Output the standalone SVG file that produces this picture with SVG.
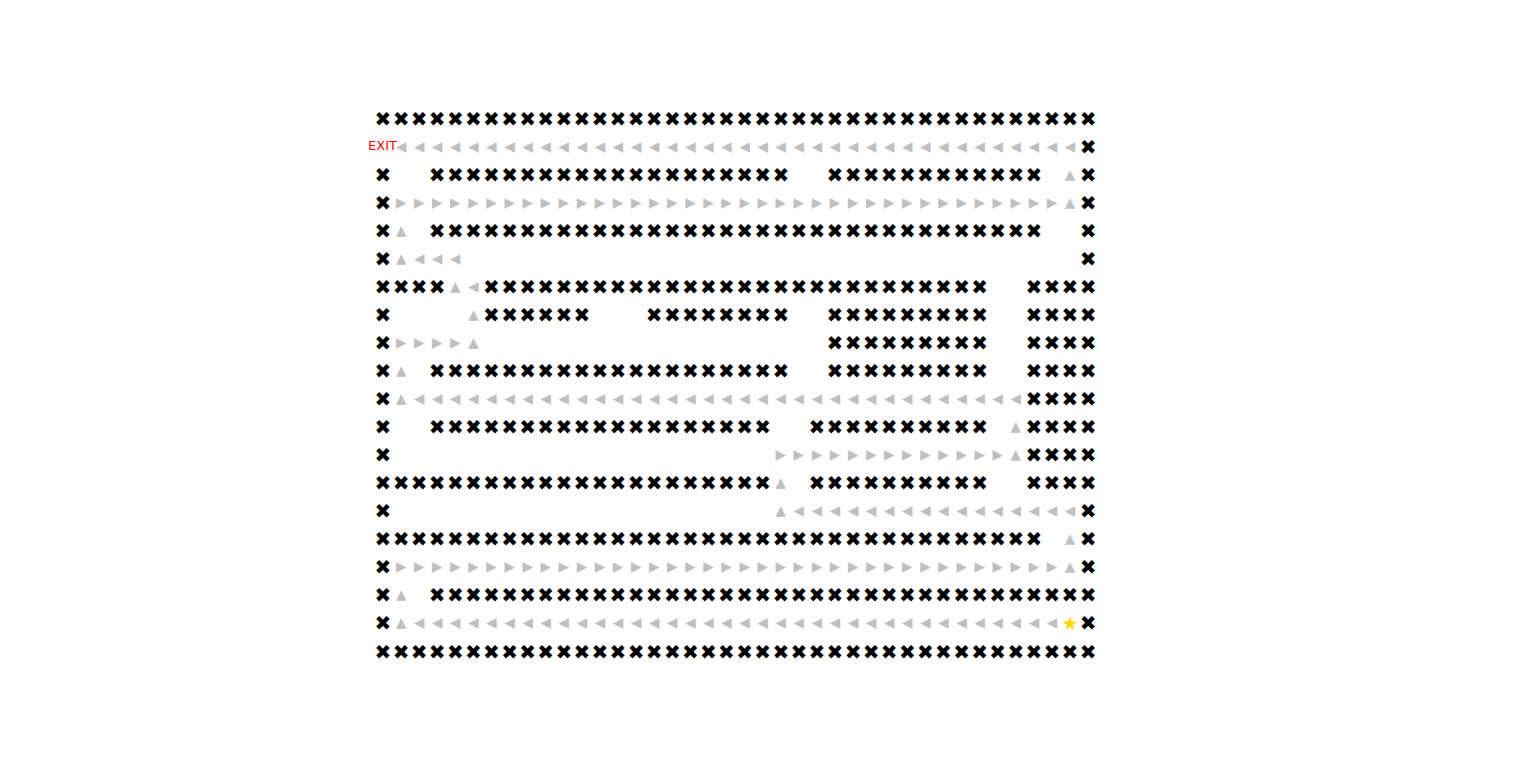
<svg xmlns="http://www.w3.org/2000/svg" width="1536" height="761" viewBox="0 0 1536 761">
<style>
.m{font-family:"DejaVu Sans",sans-serif;font-size:20px;fill:#000;text-anchor:middle;white-space:pre}
.a{fill:#c0c0c0;font-size:13.5px;baseline-shift:2.6px}
.s{fill:#ffd700;font-size:19px}
.exit{font-family:"DejaVu Sans",sans-serif;font-size:13px;fill:#ff0000;text-anchor:end}
</style>
<rect width="1536" height="761" fill="#fff"/>
<g id="maze">
<text class="m" xml:space="preserve" y="125.5" x="383 401.1 419.2 437.2 455.3 473.4 491.5 509.6 527.6 545.7 563.8 581.9 600 618 636.1 654.2 672.3 690.4 708.4 726.5 744.6 762.7 780.8 798.8 816.9 835 853.1 871.2 889.2 907.3 925.4 943.5 961.6 979.6 997.7 1015.8 1033.9 1052 1070 1088.1">✖✖✖✖✖✖✖✖✖✖✖✖✖✖✖✖✖✖✖✖✖✖✖✖✖✖✖✖✖✖✖✖✖✖✖✖✖✖✖✖</text>
<text class="m" xml:space="preserve" y="153.6" x="383 401.1 419.2 437.2 455.3 473.4 491.5 509.6 527.6 545.7 563.8 581.9 600 618 636.1 654.2 672.3 690.4 708.4 726.5 744.6 762.7 780.8 798.8 816.9 835 853.1 871.2 889.2 907.3 925.4 943.5 961.6 979.6 997.7 1015.8 1033.9 1052 1070 1088.1"> <tspan class="a">◀◀◀◀◀◀◀◀◀◀◀◀◀◀◀◀◀◀◀◀◀◀◀◀◀◀◀◀◀◀◀◀◀◀◀◀◀◀</tspan>✖</text>
<text class="m" xml:space="preserve" y="181.6" x="383 401.1 419.2 437.2 455.3 473.4 491.5 509.6 527.6 545.7 563.8 581.9 600 618 636.1 654.2 672.3 690.4 708.4 726.5 744.6 762.7 780.8 798.8 816.9 835 853.1 871.2 889.2 907.3 925.4 943.5 961.6 979.6 997.7 1015.8 1033.9 1052 1070 1088.1">✖  ✖✖✖✖✖✖✖✖✖✖✖✖✖✖✖✖✖✖✖✖  ✖✖✖✖✖✖✖✖✖✖✖✖ <tspan class="a">▲</tspan>✖</text>
<text class="m" xml:space="preserve" y="209.7" x="383 401.1 419.2 437.2 455.3 473.4 491.5 509.6 527.6 545.7 563.8 581.9 600 618 636.1 654.2 672.3 690.4 708.4 726.5 744.6 762.7 780.8 798.8 816.9 835 853.1 871.2 889.2 907.3 925.4 943.5 961.6 979.6 997.7 1015.8 1033.9 1052 1070 1088.1">✖<tspan class="a">▶▶▶▶▶▶▶▶▶▶▶▶▶▶▶▶▶▶▶▶▶▶▶▶▶▶▶▶▶▶▶▶▶▶▶▶▶▲</tspan>✖</text>
<text class="m" xml:space="preserve" y="237.7" x="383 401.1 419.2 437.2 455.3 473.4 491.5 509.6 527.6 545.7 563.8 581.9 600 618 636.1 654.2 672.3 690.4 708.4 726.5 744.6 762.7 780.8 798.8 816.9 835 853.1 871.2 889.2 907.3 925.4 943.5 961.6 979.6 997.7 1015.8 1033.9 1052 1070 1088.1">✖<tspan class="a">▲</tspan> ✖✖✖✖✖✖✖✖✖✖✖✖✖✖✖✖✖✖✖✖✖✖✖✖✖✖✖✖✖✖✖✖✖✖  ✖</text>
<text class="m" xml:space="preserve" y="265.8" x="383 401.1 419.2 437.2 455.3">✖<tspan class="a">▲◀◀◀</tspan></text>
<text class="m" y="265.8" x="1088.1">✖</text>
<text class="m" xml:space="preserve" y="293.8" x="383 401.1 419.2 437.2 455.3 473.4 491.5 509.6 527.6 545.7 563.8 581.9 600 618 636.1 654.2 672.3 690.4 708.4 726.5 744.6 762.7 780.8 798.8 816.9 835 853.1 871.2 889.2 907.3 925.4 943.5 961.6 979.6 997.7 1015.8 1033.9 1052 1070 1088.1">✖✖✖✖<tspan class="a">▲◀</tspan>✖✖✖✖✖✖✖✖✖✖✖✖✖✖✖✖✖✖✖✖✖✖✖✖✖✖✖✖  ✖✖✖✖</text>
<text class="m" xml:space="preserve" y="321.9" x="383 401.1 419.2 437.2 455.3 473.4 491.5 509.6 527.6 545.7 563.8 581.9 600 618 636.1 654.2 672.3 690.4 708.4 726.5 744.6 762.7 780.8 798.8 816.9 835 853.1 871.2 889.2 907.3 925.4 943.5 961.6 979.6 997.7 1015.8 1033.9 1052 1070 1088.1">✖    <tspan class="a">▲</tspan>✖✖✖✖✖✖   ✖✖✖✖✖✖✖✖  ✖✖✖✖✖✖✖✖✖  ✖✖✖✖</text>
<text class="m" xml:space="preserve" y="349.9" x="383 401.1 419.2 437.2 455.3 473.4">✖<tspan class="a">▶▶▶▶▲</tspan></text>
<text class="m" xml:space="preserve" y="349.9" x="835 853.1 871.2 889.2 907.3 925.4 943.5 961.6 979.6 997.7 1015.8 1033.9 1052 1070 1088.1">✖✖✖✖✖✖✖✖✖  ✖✖✖✖</text>
<text class="m" xml:space="preserve" y="378" x="383 401.1 419.2 437.2 455.3 473.4 491.5 509.6 527.6 545.7 563.8 581.9 600 618 636.1 654.2 672.3 690.4 708.4 726.5 744.6 762.7 780.8 798.8 816.9 835 853.1 871.2 889.2 907.3 925.4 943.5 961.6 979.6 997.7 1015.8 1033.9 1052 1070 1088.1">✖<tspan class="a">▲</tspan> ✖✖✖✖✖✖✖✖✖✖✖✖✖✖✖✖✖✖✖✖  ✖✖✖✖✖✖✖✖✖  ✖✖✖✖</text>
<text class="m" xml:space="preserve" y="406" x="383 401.1 419.2 437.2 455.3 473.4 491.5 509.6 527.6 545.7 563.8 581.9 600 618 636.1 654.2 672.3 690.4 708.4 726.5 744.6 762.7 780.8 798.8 816.9 835 853.1 871.2 889.2 907.3 925.4 943.5 961.6 979.6 997.7 1015.8 1033.9 1052 1070 1088.1">✖<tspan class="a">▲◀◀◀◀◀◀◀◀◀◀◀◀◀◀◀◀◀◀◀◀◀◀◀◀◀◀◀◀◀◀◀◀◀◀</tspan>✖✖✖✖</text>
<text class="m" xml:space="preserve" y="434.1" x="383 401.1 419.2 437.2 455.3 473.4 491.5 509.6 527.6 545.7 563.8 581.9 600 618 636.1 654.2 672.3 690.4 708.4 726.5 744.6 762.7 780.8 798.8 816.9 835 853.1 871.2 889.2 907.3 925.4 943.5 961.6 979.6 997.7 1015.8 1033.9 1052 1070 1088.1">✖  ✖✖✖✖✖✖✖✖✖✖✖✖✖✖✖✖✖✖✖  ✖✖✖✖✖✖✖✖✖✖ <tspan class="a">▲</tspan>✖✖✖✖</text>
<text class="m" y="462.1" x="383">✖</text>
<text class="m" xml:space="preserve" y="462.1" x="780.8 798.8 816.9 835 853.1 871.2 889.2 907.3 925.4 943.5 961.6 979.6 997.7 1015.8 1033.9 1052 1070 1088.1"><tspan class="a">▶▶▶▶▶▶▶▶▶▶▶▶▶▲</tspan>✖✖✖✖</text>
<text class="m" xml:space="preserve" y="490.2" x="383 401.1 419.2 437.2 455.3 473.4 491.5 509.6 527.6 545.7 563.8 581.9 600 618 636.1 654.2 672.3 690.4 708.4 726.5 744.6 762.7 780.8 798.8 816.9 835 853.1 871.2 889.2 907.3 925.4 943.5 961.6 979.6 997.7 1015.8 1033.9 1052 1070 1088.1">✖✖✖✖✖✖✖✖✖✖✖✖✖✖✖✖✖✖✖✖✖✖<tspan class="a">▲</tspan> ✖✖✖✖✖✖✖✖✖✖  ✖✖✖✖</text>
<text class="m" y="518.2" x="383">✖</text>
<text class="m" xml:space="preserve" y="518.2" x="780.8 798.8 816.9 835 853.1 871.2 889.2 907.3 925.4 943.5 961.6 979.6 997.7 1015.8 1033.9 1052 1070 1088.1"><tspan class="a">▲◀◀◀◀◀◀◀◀◀◀◀◀◀◀◀◀</tspan>✖</text>
<text class="m" xml:space="preserve" y="546.3" x="383 401.1 419.2 437.2 455.3 473.4 491.5 509.6 527.6 545.7 563.8 581.9 600 618 636.1 654.2 672.3 690.4 708.4 726.5 744.6 762.7 780.8 798.8 816.9 835 853.1 871.2 889.2 907.3 925.4 943.5 961.6 979.6 997.7 1015.8 1033.9 1052 1070 1088.1">✖✖✖✖✖✖✖✖✖✖✖✖✖✖✖✖✖✖✖✖✖✖✖✖✖✖✖✖✖✖✖✖✖✖✖✖✖ <tspan class="a">▲</tspan>✖</text>
<text class="m" xml:space="preserve" y="574.3" x="383 401.1 419.2 437.2 455.3 473.4 491.5 509.6 527.6 545.7 563.8 581.9 600 618 636.1 654.2 672.3 690.4 708.4 726.5 744.6 762.7 780.8 798.8 816.9 835 853.1 871.2 889.2 907.3 925.4 943.5 961.6 979.6 997.7 1015.8 1033.9 1052 1070 1088.1">✖<tspan class="a">▶▶▶▶▶▶▶▶▶▶▶▶▶▶▶▶▶▶▶▶▶▶▶▶▶▶▶▶▶▶▶▶▶▶▶▶▶▲</tspan>✖</text>
<text class="m" xml:space="preserve" y="602.4" x="383 401.1 419.2 437.2 455.3 473.4 491.5 509.6 527.6 545.7 563.8 581.9 600 618 636.1 654.2 672.3 690.4 708.4 726.5 744.6 762.7 780.8 798.8 816.9 835 853.1 871.2 889.2 907.3 925.4 943.5 961.6 979.6 997.7 1015.8 1033.9 1052 1070 1088.1">✖<tspan class="a">▲</tspan> ✖✖✖✖✖✖✖✖✖✖✖✖✖✖✖✖✖✖✖✖✖✖✖✖✖✖✖✖✖✖✖✖✖✖✖✖✖</text>
<text class="m" xml:space="preserve" y="630.4" x="383 401.1 419.2 437.2 455.3 473.4 491.5 509.6 527.6 545.7 563.8 581.9 600 618 636.1 654.2 672.3 690.4 708.4 726.5 744.6 762.7 780.8 798.8 816.9 835 853.1 871.2 889.2 907.3 925.4 943.5 961.6 979.6 997.7 1015.8 1033.9 1052 1070 1088.1">✖<tspan class="a">▲◀◀◀◀◀◀◀◀◀◀◀◀◀◀◀◀◀◀◀◀◀◀◀◀◀◀◀◀◀◀◀◀◀◀◀◀</tspan><tspan class="s">★</tspan>✖</text>
<text class="m" xml:space="preserve" y="658.5" x="383 401.1 419.2 437.2 455.3 473.4 491.5 509.6 527.6 545.7 563.8 581.9 600 618 636.1 654.2 672.3 690.4 708.4 726.5 744.6 762.7 780.8 798.8 816.9 835 853.1 871.2 889.2 907.3 925.4 943.5 961.6 979.6 997.7 1015.8 1033.9 1052 1070 1088.1">✖✖✖✖✖✖✖✖✖✖✖✖✖✖✖✖✖✖✖✖✖✖✖✖✖✖✖✖✖✖✖✖✖✖✖✖✖✖✖✖</text>
<text class="exit" x="397" y="150">EXIT</text>
</g>
</svg>
